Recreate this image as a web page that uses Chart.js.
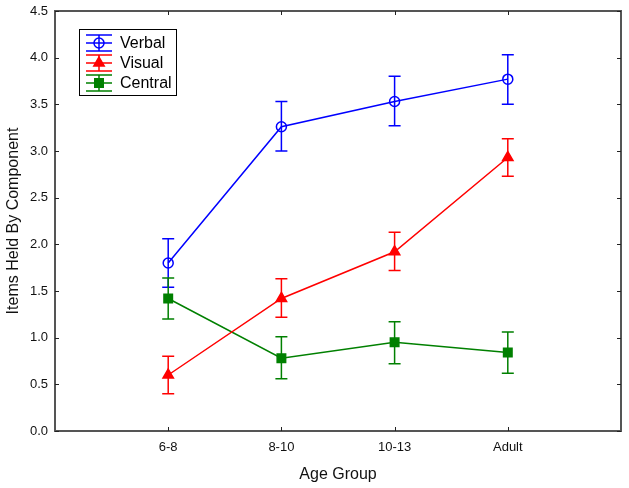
<!DOCTYPE html>
<html>
<head>
<meta charset="utf-8">
<script src="https://cdn.jsdelivr.net/npm/chart.js@4"></script>
<style>
  html, body { margin: 0; padding: 0; background: #fff; }
  #wrap { width: 629px; height: 488px; }
</style>
</head>
<body>
<div id="wrap"><canvas id="chart" width="629" height="488"></canvas></div>
<script>
// data
const ageGroups = ['6-8', '8-10', '10-13', 'Adult'];
const verbal = [1.80, 3.26, 3.53, 3.77];
const verbalLow = [1.54, 3.00, 3.27, 3.50];
const verbalHigh = [2.06, 3.53, 3.80, 4.03];
const visual = [0.60, 1.42, 1.92, 2.93];
const visualLow = [0.40, 1.22, 1.72, 2.73];
const visualHigh = [0.80, 1.63, 2.13, 3.13];
const central = [1.42, 0.78, 0.95, 0.84];
const centralLow = [1.20, 0.56, 0.72, 0.62];
const centralHigh = [1.64, 1.01, 1.17, 1.06];
const yTicks = [0, 0.5, 1.0, 1.5, 2.0, 2.5, 3.0, 3.5, 4.0, 4.5];

const FONT = '"Liberation Sans", Arial, sans-serif';

function toPoints(vals) {
  return vals.map((v, i) => ({ x: i + 1, y: v }));
}

const series = [
  { label: 'Verbal', color: '#0000ff', vals: verbal, low: verbalLow, high: verbalHigh, style: 'circle', fill: 'rgba(0,0,0,0)', r: 5 },
  { label: 'Visual', color: '#ff0000', vals: visual, low: visualLow, high: visualHigh, style: 'triangle', fill: '#ff0000', r: 6 },
  { label: 'Central', color: '#008000', vals: central, low: centralLow, high: centralHigh, style: 'rect', fill: '#008000', r: 6 }
];

// error bars, frame with inward ticks, and the boxed legend
const extras = {
  id: 'extras',
  afterDatasetsDraw(chart) {
    const ctx = chart.ctx;
    const xs = chart.scales.x, ys = chart.scales.y;
    ctx.save();
    ctx.lineWidth = 1.5;
    series.forEach(s => {
      ctx.strokeStyle = s.color;
      s.vals.forEach((v, i) => {
        const px = xs.getPixelForValue(i + 1);
        const lo = ys.getPixelForValue(s.low[i]);
        const hi = ys.getPixelForValue(s.high[i]);
        ctx.beginPath();
        ctx.moveTo(px, lo); ctx.lineTo(px, hi);
        ctx.moveTo(px - 6, lo); ctx.lineTo(px + 6, lo);
        ctx.moveTo(px - 6, hi); ctx.lineTo(px + 6, hi);
        ctx.stroke();
      });
    });
    ctx.restore();
  },
  afterDraw(chart) {
    const ctx = chart.ctx;
    const a = chart.chartArea;
    const xs = chart.scales.x, ys = chart.scales.y;
    ctx.save();
    ctx.strokeStyle = '#555';
    ctx.lineWidth = 2;
    ctx.strokeRect(a.left, a.top, a.right - a.left, a.bottom - a.top);
    ctx.lineWidth = 1;
    ctx.strokeStyle = '#222';
    ctx.beginPath();
    ageGroups.forEach((g, i) => {
      const px = Math.round(xs.getPixelForValue(i + 1)) + 0.5;
      ctx.moveTo(px, a.bottom); ctx.lineTo(px, a.bottom - 4);
      ctx.moveTo(px, a.top); ctx.lineTo(px, a.top + 4);
    });
    yTicks.forEach(t => {
      const py = Math.round(ys.getPixelForValue(t)) + 0.5;
      ctx.moveTo(a.left, py); ctx.lineTo(a.left + 4, py);
      ctx.moveTo(a.right, py); ctx.lineTo(a.right - 4, py);
    });
    ctx.stroke();

    // legend
    const bx = 79, by = 29, bw = 97, bh = 66;
    ctx.fillStyle = '#fff';
    ctx.fillRect(bx, by, bw, bh);
    ctx.strokeStyle = '#000';
    ctx.lineWidth = 1;
    ctx.strokeRect(bx + 0.5, by + 0.5, bw, bh);
    series.forEach((s, k) => {
      const cy = 43 + k * 20;
      const cx = 99;
      ctx.strokeStyle = s.color;
      ctx.lineWidth = 1.5;
      ctx.beginPath();
      ctx.moveTo(86, cy); ctx.lineTo(112, cy);
      ctx.moveTo(86, cy - 8); ctx.lineTo(112, cy - 8);
      ctx.moveTo(86, cy + 8); ctx.lineTo(112, cy + 8);
      ctx.moveTo(cx, cy - 8); ctx.lineTo(cx, cy + 8);
      ctx.stroke();
      ctx.fillStyle = s.fill;
      Chart.helpers.drawPoint(ctx, { pointStyle: s.style, radius: s.r, rotation: 0, borderWidth: 1.5 }, cx, cy);
      ctx.fillStyle = '#000';
      ctx.font = '16px ' + FONT;
      ctx.textBaseline = 'middle';
      ctx.textAlign = 'left';
      ctx.fillText(s.label, 120, cy + 1);
    });
    ctx.restore();
  }
};

new Chart(document.getElementById('chart').getContext('2d'), {
  type: 'line',
  data: {
    datasets: series.map(s => ({
      label: s.label,
      data: toPoints(s.vals),
      borderColor: s.color,
      backgroundColor: s.fill,
      pointBackgroundColor: s.fill,
      pointBorderColor: s.color,
      pointStyle: s.style,
      pointRadius: s.r,
      pointBorderWidth: 1.5,
      borderWidth: 1.5,
      tension: 0,
      fill: false
    }))
  },
  options: {
    responsive: false,
    animation: false,
    layout: { padding: { top: 11, right: 8, left: 0, bottom: 0 } },
    plugins: {
      legend: { display: false },
      tooltip: { enabled: false }
    },
    scales: {
      x: {
        type: 'linear',
        min: 0,
        max: 5,
        afterBuildTicks: axis => { axis.ticks = ageGroups.map((g, i) => ({ value: i + 1 })); },
        afterFit: axis => { axis.height = 57; axis.paddingLeft = 0; axis.paddingRight = 0; },
        ticks: {
          callback: v => ageGroups[v - 1] || '',
          font: { family: FONT, size: 13 },
          color: '#111',
          padding: 9,
          maxRotation: 0
        },
        grid: { display: false, drawTicks: false },
        border: { display: false },
        title: {
          display: true,
          text: 'Age Group',
          font: { family: FONT, size: 16 },
          color: '#111',
          padding: { top: 3 }
        }
      },
      y: {
        min: 0,
        max: 4.5,
        afterBuildTicks: axis => { axis.ticks = yTicks.map(v => ({ value: v })); },
        afterFit: axis => { axis.width = 55; axis.paddingTop = 0; axis.paddingBottom = 0; },
        ticks: {
          callback: v => v.toFixed(1),
          font: { family: FONT, size: 13 },
          color: '#111',
          padding: 7
        },
        grid: { display: false, drawTicks: false },
        border: { display: false },
        title: {
          display: true,
          text: 'Items Held By Component',
          font: { family: FONT, size: 16 },
          color: '#111',
          padding: { bottom: 2 }
        }
      }
    }
  },
  plugins: [extras]
});
</script>
</body>
</html>
